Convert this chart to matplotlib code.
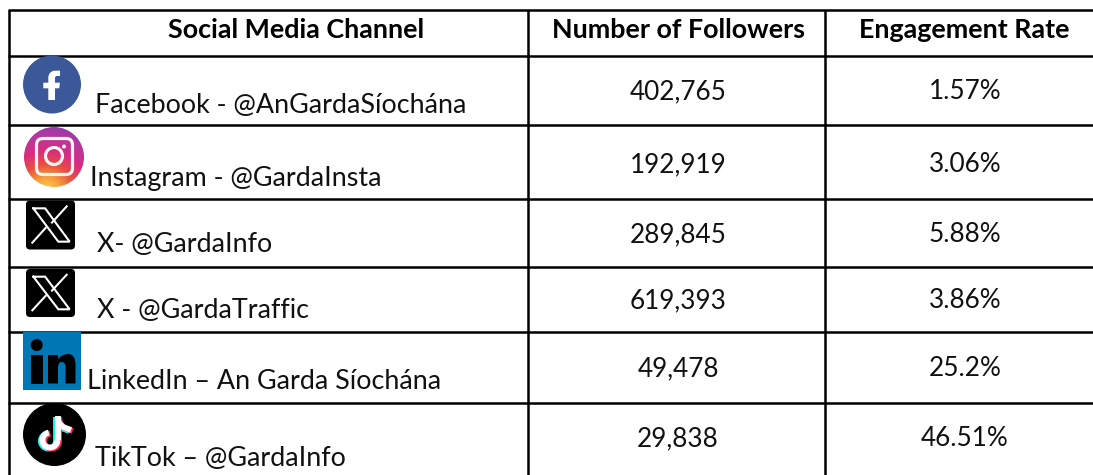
import matplotlib
matplotlib.use("Agg")
import matplotlib.pyplot as plt
import numpy as np
from matplotlib.colors import LinearSegmentedColormap
from matplotlib.patches import Circle, FancyBboxPatch, PathPatch, Rectangle
from matplotlib.path import Path

headers = ["Social Media Channel", "Number of Followers", "Engagement Rate"]
channels = ["Facebook - @AnGardaSíochána", "Instagram - @GardaInsta", "X- @GardaInfo",
            "X - @GardaTraffic", "LinkedIn – An Garda Síochána", "TikTok – @GardaInfo"]
followers = ["402,765", "192,919", "289,845", "619,393", "49,478", "29,838"]
engagement = ["1.57%", "3.06%", "5.88%", "3.86%", "25.2%", "46.51%"]

# layout in pixels of the reference
col_x = [9, 528, 825, 1093]
row_y = [10, 56, 125, 199, 267, 332, 403]
channel_x = [95, 90, 97, 97, 87, 95]
channel_y = [113, 186, 252, 318, 389, 466]
cell_y = [99, 172, 242, 308, 376, 446]
LINE = 1.8
FONT = "Lato"
TEXT = "#111111"

fig = plt.figure(figsize=(10.93, 4.75), dpi=100)
ax = fig.add_axes([0, 0, 1, 1])
ax.set_xlim(0, 1093)
ax.set_ylim(475, 0)
ax.axis("off")

# --- grid ---
for y in row_y:
    ax.plot([col_x[0] - 1, col_x[-1]], [y, y], color="black", lw=LINE, solid_capstyle="butt")
for x in col_x[:-1]:
    ax.plot([x, x], [row_y[0], 475], color="black", lw=LINE, solid_capstyle="butt")

# --- text ---
for h, x in zip(headers, [296, 678, 964]):
    ax.text(x, 38, h, fontsize=19.4, family=FONT, weight="bold", ha="center", va="baseline", color="black")
for i in range(len(channels)):
    ax.text(channel_x[i], channel_y[i], channels[i], fontsize=19.4, family=FONT, ha="left",
            va="baseline", color=TEXT)
    ax.text(678, cell_y[i], followers[i], fontsize=18.8, family=FONT, ha="center", va="baseline", color=TEXT)
    ax.text(965, cell_y[i], engagement[i], fontsize=18.8, family=FONT, ha="center", va="baseline", color=TEXT)


def x_logo(x0, y0, w, h):
    ax.add_patch(FancyBboxPatch((x0 + 4, y0 + 4), w - 8, h - 8, boxstyle="round,pad=4", fc="black", ec="none", zorder=3))
    sx = lambda v: x0 + v * w
    sy = lambda v: y0 + v * h
    ax.plot([sx(.15), sx(.39), sx(.89), sx(.66), sx(.15)], [sy(.16), sy(.16), sy(.84), sy(.84), sy(.16)],
            color="white", lw=1.5, zorder=4, solid_joinstyle="miter")
    ax.plot([sx(.83), sx(.53)], [sy(.12), sy(.45)], color="white", lw=1.5, zorder=4)
    ax.plot([sx(.40), sx(.13)], [sy(.56), sy(.86)], color="white", lw=1.5, zorder=4)


# --- facebook ---
ax.add_patch(Circle((52, 84.5), 29, fc="#3b5998", ec="none", zorder=3))
f_path = Path([(48.3, 100), (48.3, 88.3), (43.3, 88.3), (43.3, 82.7), (48.3, 82.7), (48.3, 78),
               (48.3, 72), (54, 70.7), (60, 70.7), (60, 76), (57, 76), (55, 76), (55, 78), (55, 82.7),
               (60, 82.7), (59.2, 88.3), (55, 88.3), (55, 100), (48.3, 100)],
              [Path.MOVETO, Path.LINETO, Path.LINETO, Path.LINETO, Path.LINETO, Path.LINETO,
               Path.CURVE3, Path.CURVE3, Path.LINETO, Path.LINETO, Path.LINETO, Path.CURVE3, Path.CURVE3,
               Path.LINETO, Path.LINETO, Path.LINETO, Path.LINETO, Path.LINETO, Path.CLOSEPOLY])
ax.add_patch(PathPatch(f_path, fc="white", ec="none", zorder=4))

# --- instagram ---
cmap = LinearSegmentedColormap.from_list("ig", ["#fcd45e", "#f6a13a", "#e8503f", "#d92c7f", "#b8379c", "#8d3fae"])
yy, xx = np.mgrid[0:1:80j, 0:1:80j]
grad = np.hypot(xx - 0.38, yy - 1.08) / 1.15
im = ax.imshow(grad, cmap=cmap, extent=[24, 84, 187, 127], aspect="auto", zorder=3, vmin=0, vmax=1)
im.set_clip_path(Circle((54, 157), 30, transform=ax.transData))
ax.set_xlim(0, 1093)
ax.set_ylim(475, 0)
ax.add_patch(FancyBboxPatch((43, 145), 23, 23, boxstyle="round,pad=6.5", fc="none", ec="#fdf3f3", lw=2.3, zorder=4))
ax.add_patch(Circle((54, 156), 8.5, fc="none", ec="#fdf3f3", lw=2.3, zorder=4))
ax.add_patch(Circle((64, 146.5), 2, fc="#fdf3f3", ec="none", zorder=4))

# --- X ---
x_logo(26, 200.5, 49, 49)
x_logo(26, 269, 49, 48)

# --- linkedin ---
ax.add_patch(Rectangle((23, 332), 58, 58, fc="#0077b5", ec="none", zorder=3))
ax.add_patch(Rectangle((30.7, 355), 12, 28.5, fc="black", ec="none", zorder=4))
ax.add_patch(Circle((36.7, 345), 6, fc="black", ec="none", zorder=4))
n_path = Path([(48, 383.5), (48, 355), (58, 355), (58, 359), (62, 354), (69, 354), (75.5, 355), (75.5, 365),
               (75.5, 383.5), (65.5, 383.5), (65.5, 367), (65.5, 362), (61.5, 362), (58, 362), (58, 368),
               (58, 383.5), (48, 383.5)],
              [Path.MOVETO, Path.LINETO, Path.LINETO, Path.LINETO, Path.CURVE3, Path.CURVE3, Path.CURVE3, Path.CURVE3,
               Path.LINETO, Path.LINETO, Path.LINETO, Path.CURVE3, Path.CURVE3, Path.CURVE3, Path.CURVE3,
               Path.LINETO, Path.CLOSEPOLY])
ax.add_patch(PathPatch(n_path, fc="black", ec="none", zorder=4))

# --- tiktok ---
ax.add_patch(Circle((54.5, 434.5), 31.5, fc="black", ec="none", zorder=3))
ang = np.radians(np.linspace(0, 260, 40))
for dx, dy, col, z in [(-1.6, 1, "#25f4ee", 4), (1.6, 1, "#fe2c55", 4), (0, 0, "white", 5)]:
    ax.plot(50 + dx + 7.5 * np.cos(ang), 440 + dy + 7.5 * np.sin(ang), color=col, lw=4.2, zorder=z, solid_capstyle="butt")
    ax.plot([57.5 + dx, 57.5 + dx], [416 + dy, 440 + dy], color=col, lw=4.2, zorder=z, solid_capstyle="butt")
    ax.plot([57.5 + dx, 59 + dx, 63 + dx, 71 + dx], [418 + dy, 423 + dy, 427 + dy, 430 + dy], color=col, lw=4.2, zorder=z,
            solid_capstyle="butt")

fig.savefig("out.png", dpi=100, facecolor="white")
